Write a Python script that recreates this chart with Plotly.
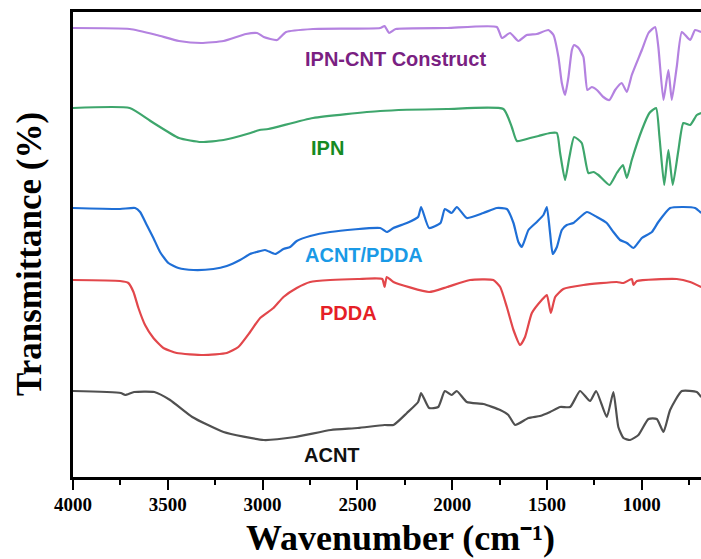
import plotly.graph_objects as go

# ---------------- data (wavenumber in cm^-1, offset transmittance in a.u.) ----------------
wn_ipncnt = [4000, 3701, 3559, 3441, 3324, 3206, 3088, 3029, 2994, 2924, 2876, 2734, 2380, 2357, 2333,
             2298, 2027, 1765, 1738, 1695, 1651, 1607, 1554, 1493, 1466, 1440, 1422, 1405, 1387, 1369,
             1357, 1334, 1308, 1287, 1264, 1237, 1203, 1171, 1141, 1106, 1079, 1053, 1000, 965, 930,
             913, 886, 860, 842, 816, 789, 745, 719, 687]
t_ipncnt = [446, 445, 439, 433, 431, 433, 440, 441, 437, 434, 442, 445, 446, 448, 441,
            445, 446, 447, 436, 441, 433, 439, 440, 444, 439, 417, 391, 379, 397, 424,
            429, 426, 417, 384, 387, 384, 377, 374, 384, 391, 382, 399, 424, 441, 447,
            427, 374, 404, 374, 407, 442, 434, 444, 442]

wn_ipn = [4000, 3701, 3583, 3441, 3324, 3206, 3064, 3017, 2970, 2734, 2380, 2027, 1730, 1686, 1659,
          1589, 1545, 1484, 1448, 1431, 1405, 1382, 1357, 1317, 1282, 1255, 1229, 1171, 1132, 1100,
          1079, 1053, 1000, 960, 925, 907, 882, 860, 837, 807, 781, 745, 710, 687]
t_ipn = [366, 366, 352, 336, 332, 334, 341, 344, 345, 356, 363, 365, 365, 347, 333,
         336, 338, 341, 341, 321, 294, 317, 337, 331, 301, 302, 299, 289, 301, 309,
         296, 314, 344, 361, 366, 337, 289, 324, 289, 324, 351, 349, 359, 361]

wn_acntpdda = [4000, 3752, 3672, 3646, 3611, 3576, 3541, 3497, 3444, 3365, 3260, 3189, 3119, 3066,
               3031, 2987, 2934, 2890, 2855, 2820, 2749, 2644,
               2380, 2345, 2310, 2239, 2180, 2164, 2122, 2062, 2039, 2003, 1976, 1923, 1836, 1765,
               1712, 1677, 1651, 1633, 1598, 1554, 1519, 1501, 1484, 1470, 1448, 1422, 1396, 1361,
               1290, 1237, 1185, 1150, 1115, 1079, 1044, 1000, 947, 913, 851, 781, 719, 687]
t_acntpdda = [266, 265, 266, 262, 249, 236, 222, 211, 206, 204, 205, 208, 214, 220,
              222, 224, 220, 225, 227, 233, 238, 242,
              246, 242, 246, 251, 257, 267, 246, 251, 265, 261, 267, 256, 261, 266,
              265, 251, 232, 227, 244, 252, 259, 267, 241, 220, 227, 244, 249, 251,
              262, 257, 251, 242, 234, 231, 226, 236, 242, 252, 266, 267, 266, 261]

wn_pdda = [4000, 3752, 3708, 3681, 3655, 3620, 3576, 3523, 3453, 3312, 3189, 3128, 3066, 3013,
           2943, 2890, 2820, 2749, 2644, 2498,
           2369, 2357, 2345, 2310, 2122, 2027, 1906, 1783, 1747, 1712, 1677, 1642, 1616, 1580,
           1528, 1501, 1480, 1457, 1414, 1308, 1132, 1097, 1053, 1044, 1026, 816, 745, 687]
t_pdda = [194, 193, 191, 182, 166, 149, 136, 126, 121, 119, 121, 127, 142, 156,
          166, 177, 186, 192, 194, 195,
          195, 187, 197, 192, 182, 187, 194, 194, 187, 167, 144, 129, 137, 161,
          174, 179, 161, 177, 185, 189, 192, 191, 195, 189, 193, 195, 192, 187]

wn_acnt = [4000, 3748, 3725, 3678, 3571, 3488, 3371, 3206, 2994, 2829, 2640, 2498, 2357, 2310,
           2239, 2180, 2164, 2122, 2074, 2039, 2003, 1976, 1923, 1836, 1747, 1704, 1668, 1598,
           1537, 1484, 1431, 1378, 1326, 1273, 1241, 1185, 1150, 1124, 1097, 1062, 1018, 965,
           921, 886, 851, 789, 710, 687]
t_acnt = [83, 81, 79, 82, 82, 74, 57, 42, 34, 37, 44, 46, 49, 49,
          61, 72, 81, 66, 67, 83, 79, 83, 72, 70, 64, 59, 49, 56,
          58, 62, 67, 67, 83, 73, 83, 57, 82, 47, 36, 34, 39, 55,
          55, 42, 64, 83, 82, 77]

series_names = ["IPN-CNT Construct", "IPN", "ACNT/PDDA", "PDDA", "ACNT"]
line_colors = ["#b482e0", "#3ea66c", "#1f6fd6", "#e2474b", "#505050"]
label_colors = ["#7a1f82", "#168a22", "#1a9ae6", "#e51f27", "#111111"]
label_x = [2301, 2660, 2466, 2549, 2635]
label_y = [415, 326, 219, 161, 19]

x_ticks = [4000, 3500, 3000, 2500, 2000, 1500, 1000]
x_minor_ticks = [3750, 3250, 2750, 2250, 1750, 1250, 750]

series_x = [wn_ipncnt, wn_ipn, wn_acntpdda, wn_pdda, wn_acnt]
series_y = [t_ipncnt, t_ipn, t_acntpdda, t_pdda, t_acnt]

fig = go.Figure()
for name, xs, ys, col in zip(series_names, series_x, series_y, line_colors):
    fig.add_trace(go.Scatter(x=xs, y=ys, mode="lines", name=name,
                             line=dict(color=col, width=2.2, shape="spline", smoothing=0.5),
                             showlegend=False))

for name, lx, ly, col in zip(series_names, label_x, label_y, label_colors):
    fig.add_annotation(x=lx, y=ly, text=name, showarrow=False,
                       font=dict(family="Liberation Sans", size=20, color=col, weight="bold"))

serif = "Liberation Serif"
# axis titles as paper annotations
fig.add_annotation(xref="paper", yref="paper", x=0.522, y=-0.176, xanchor="center", yanchor="bottom",
                   text="Wavenumber (cm\u207b\u00b9)", showarrow=False, borderpad=0,
                   font=dict(family=serif, size=36, color="black", weight="bold"))
fig.add_annotation(xref="paper", yref="paper", x=-0.068, y=0.48, xanchor="center", yanchor="middle",
                   text="Transmittance (%)", textangle=-90, showarrow=False,
                   font=dict(family=serif, size=35, color="black", weight="bold"))

fig.update_layout(
    width=701, height=559,
    margin=dict(l=73, r=0, t=12, b=82),
    paper_bgcolor="white", plot_bgcolor="white",
    xaxis=dict(range=[4000, 688], tickvals=x_ticks, ticks="outside", ticklen=10, tickwidth=2,
               tickcolor="black", showline=True, linecolor="black", linewidth=2.5, mirror=True,
               showgrid=False, zeroline=False, ticklabelstandoff=-2,
               tickfont=dict(family=serif, size=19, color="black", weight="bold"),
               minor=dict(tickvals=x_minor_ticks, ticks="outside",
                          ticklen=5, tickwidth=2, tickcolor="black", showgrid=False)),
    yaxis=dict(range=[-3, 462], showticklabels=False, ticks="", showline=True, linecolor="black",
               linewidth=2.5, showgrid=False, zeroline=False),
)

fig.write_html("out.html")
